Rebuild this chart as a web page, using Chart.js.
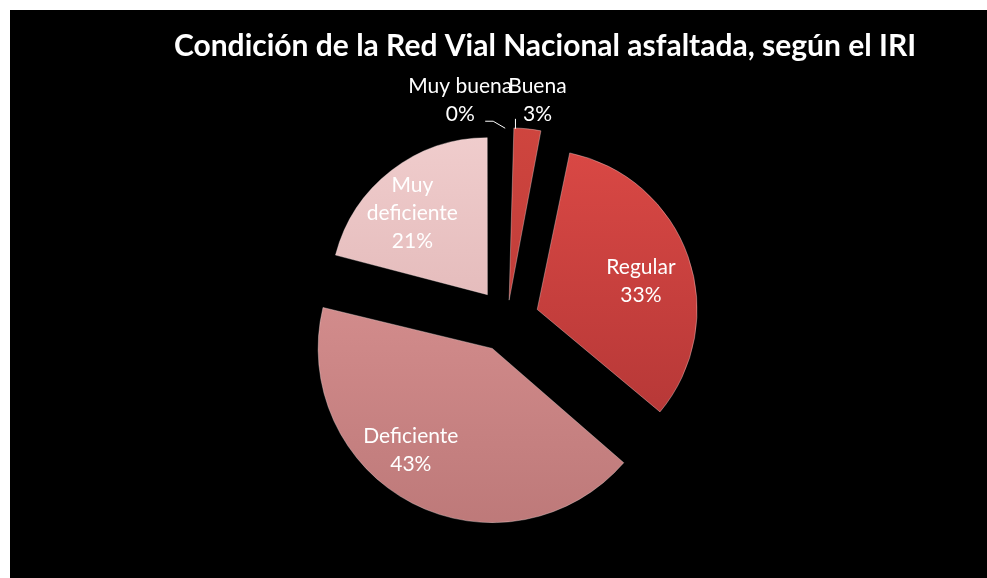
<!DOCTYPE html>
<html>
<head>
<meta charset="utf-8">
<script src="https://cdn.jsdelivr.net/npm/chart.js@4.4.0/dist/chart.umd.min.js"></script>
<style>
    body { margin: 0; background: #ffffff; }
    #wrap { position: absolute; left: 10px; top: 10px; width: 977px; height: 568px; background: #000000; }
</style>
</head>
<body>
<div id="wrap"><canvas id="pieChart" width="977" height="568"></canvas></div>
<script>
// Chart data
const chartTitle = 'Condición de la Red Vial Nacional asfaltada, según el IRI';
const categories = ['Muy buena', 'Buena', 'Regular', 'Deficiente', 'Muy deficiente'];
const labelLines = [['Muy buena'], ['Buena'], ['Regular'], ['Deficiente'], ['Muy', 'deficiente']];
const shares = [0.2, 3, 33, 43, 21];

// Slice colours (top, bottom of gradient)
const topColors = ['#9c2a2a', '#d0463f', '#dd4a46', '#e09898', '#f2d0d0'];
const bottomColors = ['#7d1f1f', '#b23434', '#ac3333', '#bc7878', '#d8a9a9'];

// Chart.js moves a slice by offset/4 (and grows thin slices a bit too)
const sliceOffsets = [72, 80, 128, 128, 128];
const RADIUS = 156;

// Label placement tweaks per slice
const labelTweaks = [
    { outside: true, dx: -48, dy: -28, leader: [[-3, 0], [-15, -7], [-23, -7]] },
    { outside: true, dx: 10, dy: -29, leader: [[-12, 0], [-12, -10]] },
    { frac: 0.65, dx: 8, dy: 5 },
    { frac: 0.65, dx: -35, dy: 12 },
    { frac: 0.65, dx: -13, dy: -1 }
];

function sliceGradient(context) {
    const chart = context.chart;
    const i = context.dataIndex;
    const area = chart.chartArea;
    if (!area) return topColors[i];
    const cy = (area.top + area.bottom) / 2;
    const reach = RADIUS + 36;
    const g = chart.ctx.createLinearGradient(0, cy - reach, 0, cy + reach);
    g.addColorStop(0, topColors[i]);
    g.addColorStop(1, bottomColors[i]);
    return g;
}

// Title drawn in its own spot (not centred on canvas)
const titlePlugin = {
    id: 'sheetTitle',
    afterDraw(chart) {
        const ctx = chart.ctx;
        ctx.save();
        ctx.fillStyle = '#ffffff';
        ctx.font = 'bold 30px Lato';
        ctx.textAlign = 'center';
        ctx.textBaseline = 'middle';
        ctx.fillText(chartTitle, 535, 36);
        ctx.restore();
    }
};

// Data labels with category + percent
const labelPlugin = {
    id: 'sliceLabels',
    afterDatasetsDraw(chart) {
        const ctx = chart.ctx;
        const meta = chart.getDatasetMeta(0);
        const values = chart.data.datasets[0].data;
        const total = values.reduce((a, b) => a + b, 0);
        ctx.save();
        ctx.fillStyle = '#ffffff';
        ctx.strokeStyle = '#ffffff';
        ctx.lineWidth = 1;
        ctx.font = '21px Lato';
        ctx.textAlign = 'center';
        ctx.textBaseline = 'middle';
        const lineH = 28;
        meta.data.forEach((arc, i) => {
            const p = arc.getProps(['x', 'y', 'startAngle', 'endAngle', 'outerRadius', 'circumference'], true);
            const mid = (p.startAngle + p.endAngle) / 2;
            const shift = arc.options.offset / 4;
            const tw = labelTweaks[i];
            const lines = labelLines[i].concat([Math.round(values[i] / total * 100) + '%']);
            let cx, cy;
            if (tw.outside) {
                // same radius growth as ArcElement.draw
                const grow = shift * (1 - Math.sin(Math.min(Math.PI, p.circumference)));
                const reach = shift + p.outerRadius + grow;
                const ox = p.x + Math.cos(mid) * reach;
                const oy = p.y + Math.sin(mid) * reach;
                ctx.beginPath();
                tw.leader.forEach((pt, k) => {
                    if (k === 0) ctx.moveTo(ox + pt[0], oy + pt[1]);
                    else ctx.lineTo(ox + pt[0], oy + pt[1]);
                });
                ctx.stroke();
                cx = ox + tw.dx;
                cy = oy + tw.dy;
            } else {
                const r = shift + tw.frac * p.outerRadius;
                cx = p.x + Math.cos(mid) * r + tw.dx;
                cy = p.y + Math.sin(mid) * r + tw.dy;
            }
            const startY = cy - (lines.length - 1) * lineH / 2;
            lines.forEach((t, k) => ctx.fillText(t, cx, startY + k * lineH));
        });
        ctx.restore();
    }
};

const ctx = document.getElementById('pieChart').getContext('2d');
const pieChart = new Chart(ctx, {
    type: 'pie',
    data: {
        labels: categories,
        datasets: [{
            data: shares,
            backgroundColor: sliceGradient,
            borderColor: 'rgba(255, 235, 235, 0.35)',
            borderWidth: [0, 1, 1, 1, 1],
            offset: sliceOffsets
        }]
    },
    options: {
        responsive: false,
        animation: false,
        radius: RADIUS,
        layout: {
            padding: { left: 117, right: 100, top: 102, bottom: 50 }
        },
        plugins: {
            legend: { display: false },
            tooltip: { enabled: false },
            title: { display: false }
        }
    },
    plugins: [titlePlugin, labelPlugin]
});
</script>
</body>
</html>
